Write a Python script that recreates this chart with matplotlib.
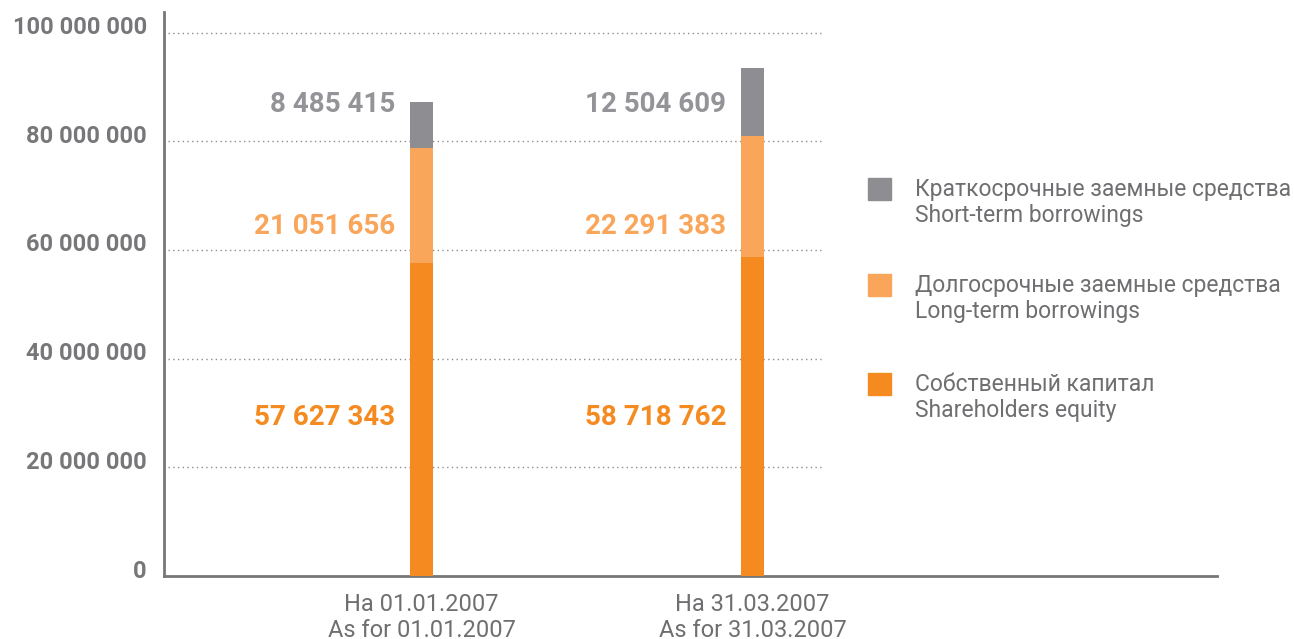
import matplotlib
matplotlib.use('Agg')
import matplotlib.pyplot as plt
from matplotlib.patches import Rectangle

# ---- data ----
categories = ['На 01.01.2007\nAs for 01.01.2007', 'На 31.03.2007\nAs for 31.03.2007']
equity = [57627343, 58718762]
long_term = [21051656, 22291383]
short_term = [8485415, 12504609]
series_labels = [
    'Краткосрочные заемные средства\nShort-term borrowings',
    'Долгосрочные заемные средства\nLong-term borrowings',
    'Собственный капитал\nShareholders equity',
]
yticks = [0, 20000000, 40000000, 60000000, 80000000, 100000000]
ytick_labels = ['0', '20 000 000', '40 000 000', '60 000 000', '80 000 000', '100 000 000']

# ---- style ----
C_GRAY = '#8e8d92'
C_LIGHT = '#f9a55a'
C_ORANGE = '#f58b20'
C_TEXT = '#6f6f72'
C_AXIS = '#77777a'
C_LABEL_GRAY = '#949398'
FONT = 'Roboto'

W, H = 1294, 639
fig = plt.figure(figsize=(W / 100, H / 100), dpi=100)
ax = fig.add_axes([164 / W, 63 / H, (1217 - 164) / W, (576 - 12) / H])

x = [0, 1]
bw = 0.07
bottom2 = equity
bottom3 = [e + l for e, l in zip(equity, long_term)]
ax.bar(x, equity, width=bw, color=C_ORANGE, zorder=3)
ax.bar(x, long_term, bottom=bottom2, width=bw, color=C_LIGHT, zorder=3)
ax.bar(x, short_term, bottom=bottom3, width=bw, color=C_GRAY, zorder=3)

ax.set_xlim(-0.778, 2.403)
ax.set_ylim(0, 103.8e6)

# dotted grid lines
for v in yticks[1:]:
    ax.plot([-0.766, 1.21], [v, v], color=C_GRAY, lw=1.0,
            linestyle=(0, (1, 2.4)), zorder=1)

# spines
for s in ['top', 'right']:
    ax.spines[s].set_visible(False)
for s in ['left', 'bottom']:
    ax.spines[s].set_color(C_AXIS)
    ax.spines[s].set_linewidth(2.0)

# y tick labels
ax.set_yticks(yticks)
ax.set_yticklabels([])
ax.tick_params(axis='y', length=0)
for v, lab in zip(yticks, ytick_labels):
    ax.annotate(lab, xy=(0, v), xycoords=ax.get_yaxis_transform(),
                xytext=(-17 * 0.72, 5 * 0.72), textcoords='offset points',
                ha='right', va='center', fontsize=17, fontweight='bold',
                color=C_AXIS, family=FONT)

# x tick labels
ax.set_xticks(x)
ax.set_xticklabels(categories, fontsize=17, color=C_TEXT, family=FONT,
                   linespacing=1.12)
ax.tick_params(axis='x', length=0, pad=12.5)

# value labels
label_y = [86.7e6, 64.4e6, 29.1e6]
label_series = [short_term, long_term, equity]
label_colors = [C_LABEL_GRAY, C_LIGHT, C_ORANGE]
for vals, ly, col in zip(label_series, label_y, label_colors):
    for xi, v in zip(x, vals):
        ax.text(xi - 0.08, ly, f"{v:,}".replace(',', ' '), ha='right',
                va='center', fontsize=20, fontweight='bold', color=col,
                family=FONT)

# legend (manual)
leg_colors = [C_GRAY, C_LIGHT, C_ORANGE]
leg_tops = [178, 274, 373]
for lab, col, top in zip(series_labels, leg_colors, leg_tops):
    fig.patches.append(Rectangle((868 / W, 1 - (top + 22) / H), 23 / W, 22 / H,
                                 transform=fig.transFigure, color=col,
                                 figure=fig))
    fig.text(915 / W, 1 - (top + 24.5) / H, lab, ha='left', va='center',
             fontsize=16.5, color=C_TEXT, family=FONT, linespacing=1.15)

fig.savefig('out.png', dpi=100)
